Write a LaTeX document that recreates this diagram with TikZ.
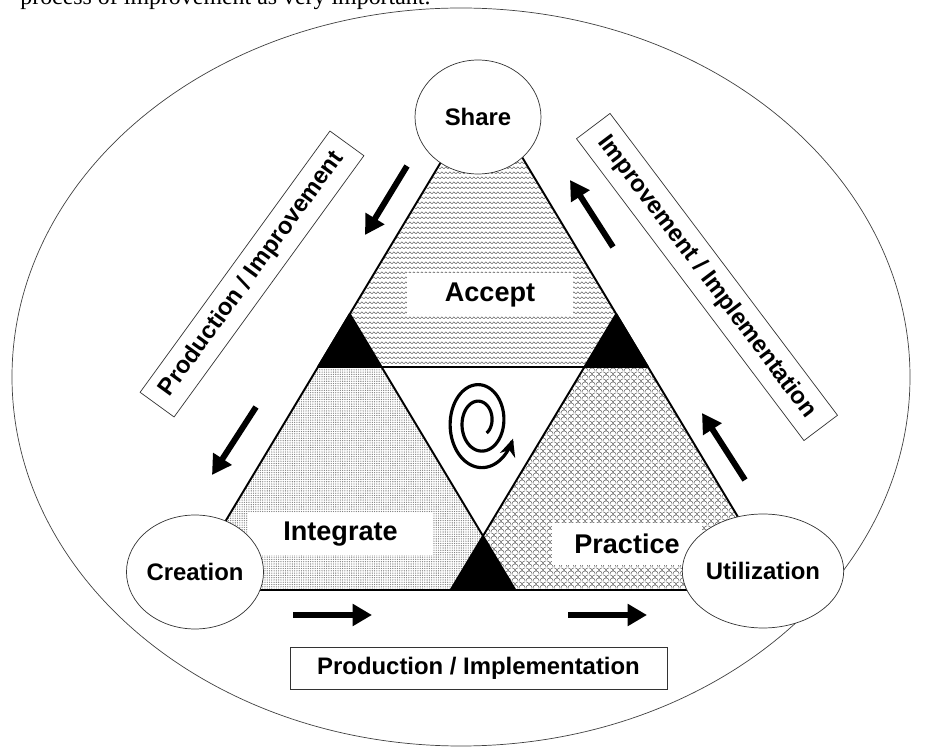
\documentclass[tikz,border=0pt]{standalone}
\usepackage{fontspec}
\setmainfont{Liberation Serif}
\setsansfont{Liberation Sans}
\usetikzlibrary{patterns}
\usetikzlibrary{shapes.geometric}
\usetikzlibrary{arrows.meta}

\pgfdeclarepatternformonly{zigzag}{\pgfqpoint{0pt}{0pt}}{\pgfqpoint{2.2pt}{2.7pt}}{\pgfqpoint{2.2pt}{2.7pt}}{%
  \pgfsetlinewidth{0.35pt}
  \pgfpathmoveto{\pgfqpoint{0pt}{0.8pt}}
  \pgfpathlineto{\pgfqpoint{1.1pt}{1.9pt}}
  \pgfpathlineto{\pgfqpoint{2.2pt}{0.8pt}}
  \pgfusepath{stroke}}
\pgfdeclarepatternformonly{scales}{\pgfqpoint{0pt}{0pt}}{\pgfqpoint{4pt}{4pt}}{\pgfqpoint{4pt}{4pt}}{%
  \pgfsetlinewidth{0.35pt}
  \pgfpathmoveto{\pgfqpoint{0pt}{0pt}}
  \pgfpatharc{180}{0}{2pt}
  \pgfpathmoveto{\pgfqpoint{2pt}{2pt}}
  \pgfpatharc{0}{90}{2pt}
  \pgfpathmoveto{\pgfqpoint{4pt}{4pt}}
  \pgfpatharc{90}{180}{2pt}
  \pgfusepath{stroke}}
\pgfdeclarepatternformonly{finedots}{\pgfqpoint{-0.5pt}{-0.5pt}}{\pgfqpoint{0.5pt}{0.5pt}}{\pgfqpoint{1.3pt}{1.3pt}}{%
  \pgfpathcircle{\pgfqpoint{0pt}{0pt}}{0.38pt}
  \pgfusepath{fill}}

\begin{document}
\begin{tikzpicture}[x=0.02cm,y=-0.02cm,
  circ/.style={ellipse,draw=black!80,fill=white,thin,minimum width=2.52cm,minimum height=2.28cm,inner sep=0pt,font=\sffamily\bfseries\fontsize{13.6}{16}\selectfont},
  lab/.style={fill=white,inner sep=0pt,minimum height=0.86cm,font=\sffamily\bfseries\fontsize{15.4}{18}\selectfont},
  tag/.style={draw=black!80,fill=white,thin,inner sep=0pt,minimum height=0.84cm,font=\sffamily\bfseries\fontsize{13.6}{16}\selectfont},
  flow/.style={line width=3.4pt,-{Triangle[length=11pt,width=12pt]}},
  side/.style={draw=black,line width=1.1pt,line join=round}]

\useasboundingbox (0,0) rectangle (927,749);
\clip (0,0) rectangle (927,749);

% text line cut by the page
\node[anchor=base west,inner sep=0pt,font=\fontsize{13.6}{16}\selectfont] (note) at (20,5) {process of improvement as very important.};

\draw[black!75,thin] (461,377) ellipse [x radius=449, y radius=369];

% the three triangles
\coordinate (accT) at (483,92);
\coordinate (accL) at (318,367);
\coordinate (accR) at (648,367);
\coordinate (intT) at (349.8,314);
\coordinate (intL) at (184.2,590);
\coordinate (intR) at (515.4,590);
\coordinate (praT) at (616.2,314);
\coordinate (praL) at (450.6,590);
\coordinate (praR) at (781.8,590);

\fill[pattern=zigzag,pattern color=black!60] (accT)--(accL)--(accR)--cycle;
\fill[pattern=finedots,pattern color=black!50] (intT)--(intL)--(intR)--cycle;
\fill[pattern=scales,pattern color=black!60] (praT)--(praL)--(praR)--cycle;

\node[lab,minimum width=3.34cm] (accept) at (490,295) {Accept};
\node[lab,minimum width=3.7cm] (integrate) at (340.5,534) {Integrate};
\node[lab,minimum width=3.0cm] (practice) at (627,544) {Practice};

% overlaps
\fill (intT)--(318,367)--(381.6,367)--cycle;
\fill (praT)--(584.4,367)--(648,367)--cycle;
\fill (483,536)--(praL)--(intR)--cycle;

\draw[side] (accT)--(accL)--(accR)--cycle;
\draw[side] (intT)--(intL)--(intR)--cycle;
\draw[side] (praT)--(praL)--(praR)--cycle;

% spiral
\draw[line width=1.8pt,-{Stealth[length=10pt,width=9pt]}] plot[domain=310:1060,samples=200,smooth,variable=\t] ({480+0.72*0.046*\t*cos(\t)},{422-0.046*\t*sin(\t)});

\node[circ] (share) at (478,117) {Share};
\node[circ] (creation) at (195,572) {Creation};
\node[circ] (utilization) at (763,571) {Utilization};

% flow arrows
\coordinate (ulA) at (407,166);
\coordinate (ulB) at (365,235);
\coordinate (llA) at (256,407);
\coordinate (llB) at (212,475);
\coordinate (urA) at (613,247);
\coordinate (urB) at (570,180);
\coordinate (lrA) at (745,480);
\coordinate (lrB) at (702,413);
\coordinate (blA) at (293,615);
\coordinate (blB) at (372,615);
\coordinate (brA) at (568,615);
\coordinate (brB) at (647,615);
\draw[flow] (ulA)--(ulB);
\draw[flow] (llA)--(llB);
\draw[flow] (urA)--(urB);
\draw[flow] (lrA)--(lrB);
\draw[flow] (blA)--(blB);
\draw[flow] (brA)--(brB);

\node[tag,minimum width=7.54cm] (prodimpl) at (478.5,668) {Production / Implementation};
\node[tag,minimum width=6.46cm,rotate=54] (prodimpr) at (252,274) {Production / Improvement};
\node[tag,minimum width=7.56cm,rotate=-53] (imprimpl) at (707,277) {Improvement / Implementation};
\end{tikzpicture}
\end{document}
